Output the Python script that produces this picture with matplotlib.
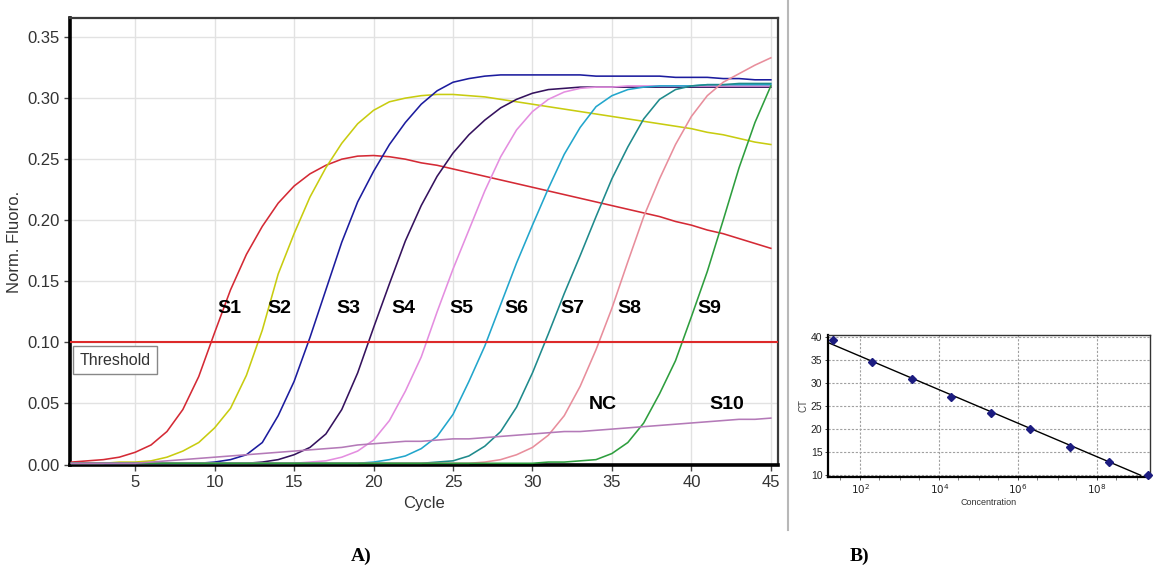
import numpy as np
import matplotlib
matplotlib.use("Agg")
import matplotlib.pyplot as plt
from matplotlib.lines import Line2D
from matplotlib.ticker import LogLocator, FixedLocator, FixedFormatter, NullFormatter

plt.rcParams['font.family'] = ['Liberation Sans', 'DejaVu Sans']

# ---------------- data: panel A (amplification curves) ----------------
cycles = list(range(1, 46))

s1 = [0.002, 0.003, 0.004, 0.006, 0.010, 0.016, 0.027, 0.045, 0.072, 0.108,
      0.143, 0.172, 0.195, 0.214, 0.228, 0.238, 0.245, 0.250, 0.2525, 0.253,
      0.252, 0.250, 0.247, 0.245, 0.242, 0.239, 0.236, 0.233, 0.230, 0.227,
      0.224, 0.221, 0.218, 0.215, 0.212, 0.209, 0.206, 0.203, 0.199, 0.196,
      0.192, 0.189, 0.185, 0.181, 0.177]
s2 = [0.001, 0.001, 0.001, 0.002, 0.002, 0.003, 0.006, 0.011, 0.018, 0.030,
      0.046, 0.073, 0.110, 0.156, 0.189, 0.219, 0.243, 0.263, 0.279, 0.290,
      0.297, 0.300, 0.302, 0.303, 0.303, 0.302, 0.301, 0.299, 0.297, 0.295,
      0.293, 0.291, 0.289, 0.287, 0.285, 0.283, 0.281, 0.279, 0.277, 0.275,
      0.272, 0.270, 0.267, 0.264, 0.262]
s3 = [0.001, 0.001, 0.001, 0.001, 0.001, 0.001, 0.001, 0.001, 0.001, 0.002,
      0.004, 0.008, 0.018, 0.040, 0.068, 0.104, 0.143, 0.182, 0.215, 0.240,
      0.262, 0.280, 0.295, 0.306, 0.313, 0.316, 0.318, 0.319, 0.319, 0.319,
      0.319, 0.319, 0.319, 0.318, 0.318, 0.318, 0.318, 0.318, 0.317, 0.317,
      0.317, 0.316, 0.316, 0.315, 0.315]
s4 = [0.001, 0.001, 0.001, 0.001, 0.001, 0.001, 0.001, 0.001, 0.001, 0.001,
      0.001, 0.001, 0.002, 0.004, 0.008, 0.014, 0.025, 0.045, 0.075, 0.112,
      0.148, 0.183, 0.212, 0.236, 0.255, 0.270, 0.282, 0.292, 0.299, 0.304,
      0.307, 0.308, 0.309, 0.309, 0.309, 0.309, 0.309, 0.309, 0.309, 0.309,
      0.309, 0.309, 0.309, 0.309, 0.309]
s5 = [0.001, 0.001, 0.001, 0.001, 0.001, 0.001, 0.001, 0.001, 0.001, 0.001,
      0.001, 0.001, 0.001, 0.001, 0.001, 0.002, 0.003, 0.006, 0.011, 0.020,
      0.036, 0.060, 0.088, 0.125, 0.160, 0.192, 0.224, 0.252, 0.274, 0.289,
      0.299, 0.305, 0.308, 0.309, 0.309, 0.310, 0.310, 0.310, 0.310, 0.310,
      0.310, 0.310, 0.310, 0.310, 0.310]
s6 = [0.001, 0.001, 0.001, 0.001, 0.001, 0.001, 0.001, 0.001, 0.001, 0.001,
      0.001, 0.001, 0.001, 0.001, 0.001, 0.001, 0.001, 0.001, 0.001, 0.002,
      0.004, 0.007, 0.013, 0.023, 0.041, 0.068, 0.097, 0.131, 0.165, 0.196,
      0.226, 0.254, 0.276, 0.293, 0.302, 0.307, 0.309, 0.310, 0.310, 0.310,
      0.311, 0.311, 0.311, 0.311, 0.311]
s7 = [0.001, 0.001, 0.001, 0.001, 0.001, 0.001, 0.001, 0.001, 0.001, 0.001,
      0.001, 0.001, 0.001, 0.001, 0.001, 0.001, 0.001, 0.001, 0.001, 0.001,
      0.001, 0.001, 0.001, 0.002, 0.003, 0.007, 0.015, 0.027, 0.047, 0.075,
      0.107, 0.140, 0.171, 0.203, 0.234, 0.260, 0.283, 0.299, 0.307, 0.310,
      0.311, 0.311, 0.312, 0.312, 0.312]
s8 = [0.001, 0.001, 0.001, 0.001, 0.001, 0.001, 0.001, 0.001, 0.001, 0.001,
      0.001, 0.001, 0.001, 0.001, 0.001, 0.001, 0.001, 0.001, 0.001, 0.001,
      0.001, 0.001, 0.001, 0.001, 0.001, 0.001, 0.002, 0.004, 0.008, 0.014,
      0.024, 0.040, 0.064, 0.094, 0.128, 0.166, 0.203, 0.234, 0.262, 0.285,
      0.302, 0.313, 0.320, 0.327, 0.333]
s9 = [0.001, 0.001, 0.001, 0.001, 0.001, 0.001, 0.001, 0.001, 0.001, 0.001,
      0.001, 0.001, 0.001, 0.001, 0.001, 0.001, 0.001, 0.001, 0.001, 0.001,
      0.001, 0.001, 0.001, 0.001, 0.001, 0.001, 0.001, 0.001, 0.001, 0.001,
      0.002, 0.002, 0.003, 0.004, 0.009, 0.018, 0.034, 0.058, 0.085, 0.121,
      0.158, 0.200, 0.243, 0.280, 0.310]
s10 = [0.001, 0.001, 0.001, 0.001, 0.001, 0.002, 0.003, 0.004, 0.005, 0.006,
       0.007, 0.008, 0.009, 0.010, 0.011, 0.012, 0.013, 0.014, 0.016, 0.017,
       0.018, 0.019, 0.019, 0.020, 0.021, 0.021, 0.022, 0.023, 0.024, 0.025,
       0.026, 0.027, 0.027, 0.028, 0.029, 0.030, 0.031, 0.032, 0.033, 0.034,
       0.035, 0.036, 0.037, 0.037, 0.038]

threshold = 0.10

curve_labels = ["S1", "S2", "S3", "S4", "S5", "S6", "S7", "S8", "S9", "NC", "S10"]
label_x = [10.9, 14.1, 18.4, 21.9, 25.5, 29.0, 32.5, 36.1, 41.1, 34.4, 42.2]
label_y = [0.128, 0.128, 0.128, 0.128, 0.128, 0.128, 0.128, 0.128, 0.128, 0.049, 0.049]

# ---------------- data: panel B (standard curve) ----------------
concentration = [2e1, 2e2, 2e3, 2e4, 2e5, 2e6, 2e7, 2e8, 2e9]
ct_values = [39.3, 34.5, 30.8, 27.0, 23.4, 20.0, 16.1, 12.9, 10.1]
b_yticks = [10, 15, 20, 25, 30, 35, 40]
b_xticks = [1e2, 1e4, 1e6, 1e8]
b_xticklabels = ["$10^{2}$", "$10^{4}$", "$10^{6}$", "$10^{8}$"]

# ---------------- figure ----------------
W, H = 1154, 577
fig = plt.figure(figsize=(W / 100, H / 100), dpi=100)
fig.patch.set_facecolor("white")

def fx(px):
    return px / W

def fy(py):
    return 1 - py / H

# Panel A
axA = fig.add_axes([fx(70), fy(465), fx(778) - fx(70), fy(18) - fy(465)])
series = [s1, s2, s3, s4, s5, s6, s7, s8, s9, s10]
colors = ["#d42a35", "#c8cc10", "#1c1c9e", "#35125e", "#e48ee0",
          "#22a6cc", "#1f8a8c", "#e88e9c", "#2e9e3e", "#b47ab8"]
for ys, c in zip(series, colors):
    axA.plot(cycles, ys, color=c, lw=1.15, zorder=3)

axA.axhline(threshold, color="#dd2a2a", lw=1.5, zorder=4)
axA.text(1.5, 0.0855, "Threshold", fontsize=11.5, color="#333333",
         ha="left", va="center", zorder=6,
         bbox=dict(boxstyle="square,pad=0.4", facecolor="white",
                   edgecolor="#888888", lw=1.0))

for t, x, y in zip(curve_labels, label_x, label_y):
    axA.text(x, y, t, fontsize=14, fontweight="bold", color="black",
             ha="center", va="center", zorder=6)

axA.set_xlim(0.9, 45.45)
axA.set_ylim(-0.0004, 0.3656)
axA.set_xticks([5, 10, 15, 20, 25, 30, 35, 40, 45])
axA.set_yticks([0.0, 0.05, 0.10, 0.15, 0.20, 0.25, 0.30, 0.35])
axA.set_yticklabels(["0.00", "0.05", "0.10", "0.15", "0.20", "0.25", "0.30", "0.35"])
axA.grid(True, color="#e2e2e2", lw=1.0, zorder=0)
axA.set_axisbelow(True)
axA.tick_params(axis="both", labelsize=12, colors="#444444", length=4,
                width=1, labelcolor="#333333", direction="out")
for side in ["left", "bottom"]:
    axA.spines[side].set_linewidth(2.6)
    axA.spines[side].set_color("black")
for side in ["top", "right"]:
    axA.spines[side].set_linewidth(1.6)
    axA.spines[side].set_color("#3a3a3a")
axA.set_xlabel("Cycle", fontsize=12, color="#333333", labelpad=4)
axA.set_ylabel("Norm. Fluoro.", fontsize=12, color="#333333", labelpad=4)

# Panel B
axB = fig.add_axes([fx(828), fy(477), fx(1150) - fx(828), fy(335) - fy(477)])
axB.set_xscale("log")
logc = np.log10(concentration)
slope, intercept = np.polyfit(logc, ct_values, 1)
fit_x = np.array([10 ** 1.2, 10 ** 9.1])
axB.plot(fit_x, slope * np.log10(fit_x) + intercept, color="black", lw=1.0, zorder=3)
axB.plot(concentration, ct_values, linestyle="none", marker="D", markersize=3.8,
         color="#1c1c80", zorder=4, clip_on=False)
axB.set_xlim(10 ** 1.18, 10 ** 9.34)
axB.set_ylim(9.6, 40.4)
axB.xaxis.set_major_locator(FixedLocator(b_xticks))
axB.xaxis.set_major_formatter(FixedFormatter(b_xticklabels))
axB.xaxis.set_minor_locator(LogLocator(base=10, subs=(1.0, 3.0), numticks=30))
axB.xaxis.set_minor_formatter(NullFormatter())
axB.set_yticks(b_yticks)
axB.grid(True, which="major", color="#a0a0a0", lw=0.8, linestyle=(0, (2, 1.5)))
axB.set_axisbelow(True)
axB.tick_params(axis="both", which="major", labelsize=7.5, length=2.5,
                width=0.7, colors="#444444", labelcolor="#222222", pad=1.5)
axB.tick_params(axis="x", which="minor", length=2, width=0.6, colors="#666666")
for side in ["left", "bottom"]:
    axB.spines[side].set_linewidth(1.6)
    axB.spines[side].set_color("black")
for side in ["top", "right"]:
    axB.spines[side].set_linewidth(1.0)
    axB.spines[side].set_color("#333333")
axB.set_xlabel("Concentration", fontsize=6.5, color="#333333", labelpad=1)
axB.set_ylabel("CT", fontsize=7, color="#444444", labelpad=2)

# separator line
fig.add_artist(Line2D([fx(788), fx(788)], [fy(530), 1.0], color="#b8b8b8", lw=1.5))

# panel labels
fig.text(fx(361), fy(556), "A)", fontsize=14, fontweight="bold",
         family=["Liberation Serif", "DejaVu Serif"], ha="center", va="center")
fig.text(fx(859), fy(556), "B)", fontsize=14, fontweight="bold",
         family=["Liberation Serif", "DejaVu Serif"], ha="center", va="center")

fig.savefig("out.png", dpi=100, facecolor="white")
